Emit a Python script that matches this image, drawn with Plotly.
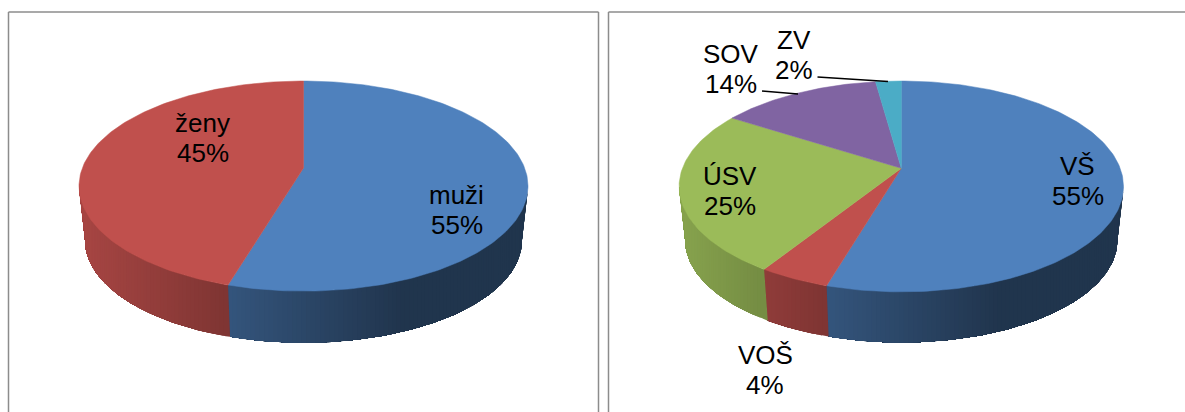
import numpy as np
import plotly.graph_objects as go

# ---- data ----
gender_categories = ["muži", "ženy"]
gender_values = [54.6, 45.4]
education_categories = ["VŠ", "VOŠ", "ÚSV", "SOV", "ZV"]
education_values = [54.6, 4.4, 25.0, 13.8, 2.2]

# ---- styles and layout ----
BLUE, RED, GREEN, PURPLE, TEAL = (79, 129, 189), (192, 80, 77), (155, 187, 89), (128, 100, 162), (75, 172, 198)
gender_colors = [BLUE, RED]
education_colors = [BLUE, RED, GREEN, PURPLE, TEAL]
FONT = "Liberation Sans, Arial, sans-serif"
FONT_SIZE = 26
LINE_GAP = 30


def disc_point(theta, geo, bottom=False):
    """Perspective projection of a rim point of the pie (theta clockwise from top)."""
    w = 1 + geo["p"] * np.cos(theta)
    s = geo["scale"] if bottom else 1.0
    y0 = geo["y0b"] if bottom else geo["y0"]
    return geo["cx"] + s * geo["a"] * np.sin(theta) / w, y0 - s * geo["b"] * np.cos(theta) / w


def shade(color, x, geo):
    t = (x - (geo["cx"] - geo["rx"])) / (2 * geo["rx"])
    f = max(0.41, 0.875 - 0.645 * t)
    return "rgb(%d,%d,%d)" % tuple(round(c * f) for c in color)


def rgb(color):
    return "rgb(%d,%d,%d)" % color


def add_pie(fig, values, colors, geo):
    total = float(sum(values))
    edges = np.concatenate([[0], np.cumsum(values)]) / total * 2 * np.pi
    wide = np.arccos(-geo["p"])  # angle where the rim is widest on screen
    for i, color in enumerate(colors):
        lo, hi = max(edges[i], wide), min(edges[i + 1], 2 * np.pi - wide)
        if hi <= lo:
            continue
        n = max(2, int(np.degrees(hi - lo) / 1.0))
        ths = np.linspace(lo, hi, n + 1)
        top_x, top_y = disc_point(ths, geo)
        bot_x, bot_y = disc_point(ths, geo, True)
        # painter's order: each band reaches to the slice end, the next one overlays it,
        # and its leading edge is vertical on screen so the shading runs across the pie.
        for k in range(n):
            x_edge = top_x[k]
            if k == 0:
                x_bot_edge, y_bot_edge = bot_x[0], bot_y[0]
            else:
                x_bot_edge = float(np.clip(x_edge, bot_x.min(), bot_x.max()))
                y_bot_edge = np.interp(x_bot_edge, bot_x[::-1], bot_y[::-1])
            mask = bot_x < x_bot_edge
            xs = np.concatenate([top_x[k:], bot_x[mask][::-1], [x_bot_edge], [top_x[k]]])
            ys = np.concatenate([top_y[k:], bot_y[mask][::-1], [y_bot_edge], [top_y[k]]])
            c = shade(color, x_edge, geo)
            fig.add_trace(go.Scatter(x=xs, y=ys, mode="lines", fill="toself", fillcolor=c,
                                     line=dict(color=c, width=0), hoverinfo="skip", showlegend=False))
    # top face
    for i, color in enumerate(colors):
        ths = np.linspace(edges[i], edges[i + 1], max(3, int(np.degrees(edges[i + 1] - edges[i]))))
        xs, ys = disc_point(ths, geo)
        xs = np.concatenate([[geo["cx"]], xs, [geo["cx"]]])
        ys = np.concatenate([[geo["y0"]], ys, [geo["y0"]]])
        fig.add_trace(go.Scatter(x=xs, y=ys, mode="lines", fill="toself", fillcolor=rgb(color),
                                 line=dict(color=rgb(color), width=0.5), hoverinfo="skip", showlegend=False))


P = 0.172
gender_geo = dict(cx=303.5, rx=224.5, a=224.5 * np.sqrt(1 - P ** 2), y0=168.0, b=87.0 * (1 + P), p=P, y0b=223.0, scale=0.973)
education_geo = dict(cx=901.3, rx=222.2, a=222.2 * np.sqrt(1 - P ** 2), y0=168.3, b=87.3 * (1 + P), p=P, y0b=222.3, scale=0.973)

fig = go.Figure()
add_pie(fig, gender_values, gender_colors, gender_geo)
add_pie(fig, education_values, education_colors, education_geo)

gender_label_pos = [(456.5, 195), (202.5, 123)]
education_label_pos = [(1077.5, 166), (765, 354.5), (730, 176), (731, 54), (794, 40)]

annotations = []
for cats, vals, positions in [(gender_categories, gender_values, gender_label_pos),
                              (education_categories, education_values, education_label_pos)]:
    for cat, val, (lx, ly) in zip(cats, vals, positions):
        for text, yy in [(cat, ly), ("%d%%" % round(val), ly + LINE_GAP)]:
            annotations.append(dict(x=lx, y=yy, xref="x", yref="y", text=text, showarrow=False,
                                    xanchor="center", yanchor="middle",
                                    font=dict(family=FONT, size=FONT_SIZE, color="#000000")))

FRAME = dict(color="#8c8c8c", width=1.5)
shapes = [
    dict(type="line", xref="x", yref="y", x0=8.5, x1=8.5, y0=12, y1=412, line=FRAME),
    dict(type="line", xref="x", yref="y", x0=8.5, x1=598.5, y0=12, y1=12, line=FRAME),
    dict(type="line", xref="x", yref="y", x0=598.5, x1=598.5, y0=12, y1=412, line=FRAME),
    dict(type="line", xref="x", yref="y", x0=608.5, x1=608.5, y0=12, y1=412, line=FRAME),
    dict(type="line", xref="x", yref="y", x0=608.5, x1=1185, y0=12, y1=12, line=FRAME),
    # leader lines
    dict(type="line", xref="x", yref="y", x0=817.5, x1=888, y0=77, y1=81.5, line=dict(color="#000000", width=1.5)),
    dict(type="line", xref="x", yref="y", x0=762, x1=798, y0=91, y1=94, line=dict(color="#000000", width=1.5)),
]

fig.update_layout(
    width=1185, height=412, autosize=False,
    margin=dict(l=0, r=0, t=0, b=0),
    paper_bgcolor="white", plot_bgcolor="white",
    xaxis=dict(range=[0, 1185], visible=False, fixedrange=True),
    yaxis=dict(range=[412, 0], visible=False, fixedrange=True),
    annotations=annotations, shapes=shapes, showlegend=False,
)
fig.write_html("out.html", config=dict(displayModeBar=False),
               post_script="document.body.style.margin='0';document.documentElement.style.overflow='hidden';")
